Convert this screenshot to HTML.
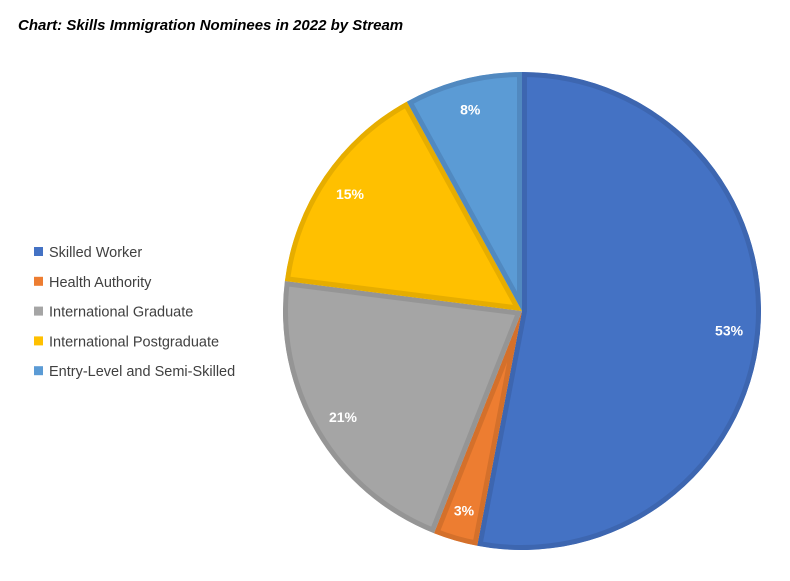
<!DOCTYPE html>
<html><head><meta charset="utf-8"><style>
body{margin:0;background:#fff;width:790px;height:581px;overflow:hidden;font-family:"Liberation Sans",sans-serif}
#title{position:absolute;left:18px;top:17px;font-size:15px;font-weight:bold;font-style:italic;color:#000}
</style></head><body>
<div id="title">Chart: Skills Immigration Nominees in 2022 by Stream</div>
<svg id="chart" width="790" height="581" style="position:absolute;left:0;top:0"></svg>
<script>
const categories=["Skilled Worker","Health Authority","International Graduate","International Postgraduate","Entry-Level and Semi-Skilled"];
const values=[53,3,21,15,8];
const colors=["#4472c4","#ed7d31","#a5a5a5","#ffc000","#5b9bd5"];
const strokes=["#3d66b0","#d4702b","#959595","#e6ad00","#5189c0"];
const svg=document.getElementById('chart');
const NS="http://www.w3.org/2000/svg";
const cx=522,cy=311,R=239;
const total=values.reduce((a,b)=>a+b,0);
const defs=document.createElementNS(NS,'defs');svg.appendChild(defs);
let acc=0;
function pt(a,r){return [cx+r*Math.sin(a),cy-r*Math.cos(a)];}
values.forEach((v,i)=>{
  const a0=acc/total*2*Math.PI;acc+=v;const a1=acc/total*2*Math.PI;
  const p0=pt(a0,R),p1=pt(a1,R);const large=(a1-a0)>Math.PI?1:0;
  const d=`M${cx},${cy}L${p0[0]},${p0[1]}A${R},${R} 0 ${large} 1 ${p1[0]},${p1[1]}Z`;
  const cp=document.createElementNS(NS,'clipPath');cp.setAttribute('id','c'+i);
  const cpp=document.createElementNS(NS,'path');cpp.setAttribute('d',d);cp.appendChild(cpp);defs.appendChild(cp);
  const p=document.createElementNS(NS,'path');
  
  
  p.setAttribute('d',d);p.setAttribute('fill',colors[i]);p.setAttribute('stroke',strokes[i]);
  p.setAttribute('stroke-width','10');p.setAttribute('clip-path','url(#c'+i+')');
  svg.appendChild(p);
  const m=(a0+a1)/2;const lp=pt(m,208);
  const t=document.createElementNS(NS,'text');
  
  
  t.setAttribute('x',lp[0]);t.setAttribute('y',lp[1]+5);t.setAttribute('text-anchor','middle');
  t.setAttribute('fill','#fff');t.setAttribute('font-size','14');t.setAttribute('font-weight','bold');
  t.setAttribute('font-family','Liberation Sans, sans-serif');
  t.textContent=v+'%';svg.appendChild(t);
});
categories.forEach((c,i)=>{
  const y=252+i*29.8;
  const r=document.createElementNS(NS,'rect');
  
  
  r.setAttribute('x',34);r.setAttribute('y',y-5);r.setAttribute('width',9);r.setAttribute('height',9);r.setAttribute('fill',colors[i]);
  svg.appendChild(r);
  const t=document.createElementNS(NS,'text');
  
  
  t.setAttribute('x',49);t.setAttribute('y',y+5);t.setAttribute('font-size','14.5');t.setAttribute('fill','#404040');
  t.setAttribute('font-family','Liberation Sans, sans-serif');
  t.textContent=c;svg.appendChild(t);
});
</script>
</body></html>
